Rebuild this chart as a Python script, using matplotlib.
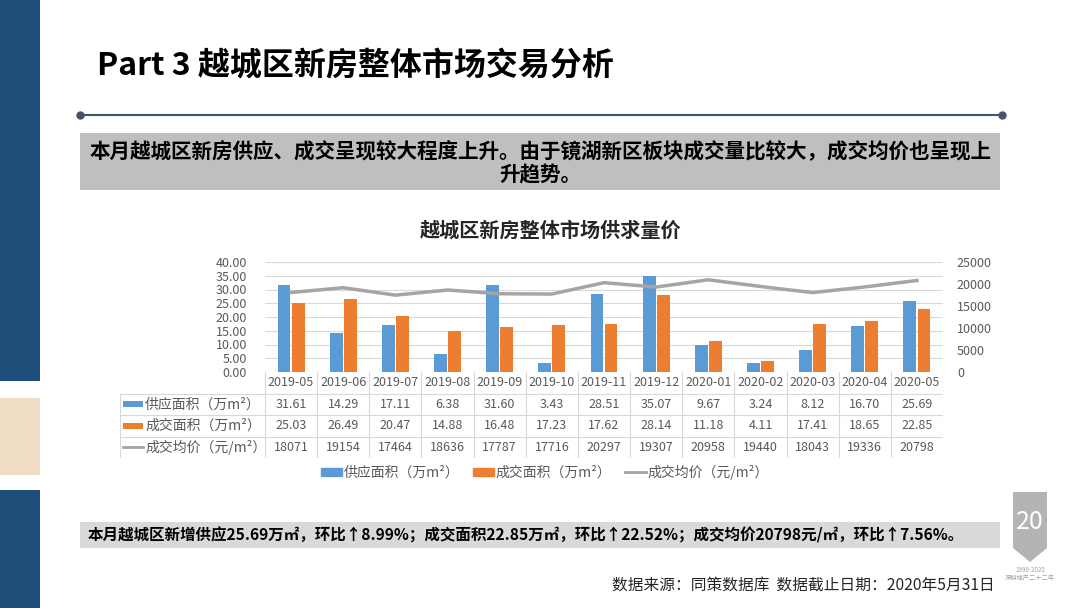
import matplotlib
matplotlib.use("Agg")
from matplotlib import pyplot as plt
from matplotlib.patches import Rectangle, Patch, Polygon
from matplotlib.lines import Line2D
import numpy as np

plt.rcParams['font.family'] = ['Noto Sans CJK SC', 'DejaVu Sans']

# data
months = ['2019-05', '2019-06', '2019-07', '2019-08', '2019-09', '2019-10', '2019-11',
          '2019-12', '2020-01', '2020-02', '2020-03', '2020-04', '2020-05']
supply = [31.61, 14.29, 17.11, 6.38, 31.60, 3.43, 28.51, 35.07, 9.67, 3.24, 8.12, 16.70, 25.69]
deal = [25.03, 26.49, 20.47, 14.88, 16.48, 17.23, 17.62, 28.14, 11.18, 4.11, 17.41, 18.65, 22.85]
price = [18071, 19154, 17464, 18636, 17787, 17716, 20297, 19307, 20958, 19440, 18043, 19336, 20798]
series_names = ['供应面积（万m²）', '成交面积（万m²）', '成交均价（元/m²）']

BLUE = '#5b9bd5'
ORANGE = '#ed7d31'
GRAY = '#a5a5a5'
TXT = '#595959'

W, H = 1080, 608

def box(x0, y0, x1, y1):
    return [x0 / W, 1 - y1 / H, (x1 - x0) / W, (y1 - y0) / H]

fig = plt.figure(figsize=(10.8, 6.08), dpi=100)

# left decoration strip
for (y0, y1, c) in [(0, 381, '#1f4e7a'), (398, 475, '#f0dcc4'), (490, 608, '#1f4e7a')]:
    fig.add_artist(Rectangle((0, 1 - y1 / H), 40 / W, (y1 - y0) / H,
                             transform=fig.transFigure, color=c, lw=0))

# page title
fig.text(97 / W, 1 - 65 / H, 'Part 3 越城区新房整体市场交易分析', fontsize=23,
         fontweight='heavy', va='center', ha='left', color='black')

# divider line with dots
fig.add_artist(Line2D([80 / W, 1002 / W], [1 - 115 / H, 1 - 115 / H], transform=fig.transFigure,
                      color='#44546a', lw=1.5))
fig.add_artist(Line2D([80 / W, 1002 / W], [1 - 115 / H, 1 - 115 / H], transform=fig.transFigure,
                      color='#44546a', lw=0, marker='o', markersize=5))

# summary box
fig.add_artist(Rectangle((80 / W, 1 - 190 / H), 920 / W, 57 / H, transform=fig.transFigure,
                         color='#bfbfbf', lw=0))
fig.text(540 / W, 1 - 152 / H, '本月越城区新房供应、成交呈现较大程度上升。由于镜湖新区板块成交量比较大，成交均价也呈现上',
         fontsize=14.8, fontweight='bold', ha='center', va='center')
fig.text(540 / W, 1 - 175 / H, '升趋势。', fontsize=14.8, fontweight='bold', ha='center', va='center')

# chart title
fig.text(551 / W, 1 - 230 / H, '越城区新房整体市场供求量价', fontsize=14.5, fontweight='bold',
         ha='center', va='center', color='#262626')

# main chart
ax = fig.add_axes(box(265, 262, 943, 372))
x = np.arange(len(months))
ax.bar(x - 0.135, supply, width=0.245, color=BLUE, zorder=3)
ax.bar(x + 0.135, deal, width=0.245, color=ORANGE, zorder=3)
ax.set_xlim(-0.5, len(months) - 0.5)
ax.set_ylim(0, 40)
ax.set_yticks(np.arange(0, 41, 5))
ax.set_yticklabels(['%.2f' % v for v in np.arange(0, 41, 5)])
ax.set_xticks([])
ax.grid(axis='y', color='#d9d9d9', lw=0.8, zorder=0)
for s in ax.spines.values():
    s.set_visible(False)
ax.tick_params(axis='y', length=0, pad=13, labelsize=9, labelcolor=TXT)

ax2 = ax.twinx()
ax2.plot(x, price, color=GRAY, lw=2.5, zorder=4)
ax2.set_ylim(0, 25000)
ax2.set_yticks(np.arange(0, 25001, 5000))
for s in ax2.spines.values():
    s.set_visible(False)
ax2.tick_params(axis='y', length=0, pad=10, labelsize=9, labelcolor=TXT)

# data table under the chart
tx = fig.add_axes(box(120, 372, 943, 458))
px_per_unit = (943 - 265) / len(months)
left = -0.5 - (265 - 120) / px_per_unit
tx.set_xlim(left, len(months) - 0.5)
tx.set_ylim(4, 0)
tx.axis('off')
line_c = '#d9d9d9'
for i in range(len(months) + 1):
    tx.plot([i - 0.5, i - 0.5], [0, 4], color=line_c, lw=0.8)
tx.plot([left, left], [1, 4], color=line_c, lw=0.8)
for r in [1, 2, 3, 4]:
    tx.plot([left, len(months) - 0.5], [r, r], color=line_c, lw=0.8)
for i, m in enumerate(months):
    tx.text(i, 0.5, m, ha='center', va='center', fontsize=9, color=TXT)
    tx.text(i, 1.5, '%.2f' % supply[i], ha='center', va='center', fontsize=9, color=TXT)
    tx.text(i, 2.5, '%.2f' % deal[i], ha='center', va='center', fontsize=9, color=TXT)
    tx.text(i, 3.5, '%d' % price[i], ha='center', va='center', fontsize=9, color=TXT)

key_w = 20 / px_per_unit
kx = left + 3 / px_per_unit
tx.add_patch(Rectangle((kx, 1.35), key_w, 0.3, color=BLUE, lw=0))
tx.add_patch(Rectangle((kx, 2.35), key_w, 0.3, color=ORANGE, lw=0))
tx.plot([kx, kx + key_w], [3.5, 3.5], color=GRAY, lw=2)
for r, name in enumerate(series_names):
    tx.text(kx + key_w + 2 / px_per_unit, r + 1.5, name, ha='left', va='center',
            fontsize=10, color=TXT)

# legend
handles = [Patch(color=BLUE), Patch(color=ORANGE), Line2D([0], [0], color=GRAY, lw=2)]
fig.legend(handles, series_names, loc='center', bbox_to_anchor=(545 / W, 1 - 472 / H),
           ncol=3, frameon=False, fontsize=10, labelcolor=TXT, handlelength=1.5,
           handleheight=0.5, handletextpad=0.1, columnspacing=1.0)

# bottom summary box
fig.add_artist(Rectangle((80 / W, 1 - 548 / H), 920 / W, 26 / H, transform=fig.transFigure,
                         color='#d9d9d9', lw=0))
fig.text(88 / W, 1 - 535 / H,
         '本月越城区新增供应25.69万㎡，环比↑8.99%；成交面积22.85万㎡，环比↑22.52%；成交均价20798元/㎡，环比↑7.56%。',
         fontsize=11.2, fontweight='bold', ha='left', va='center')

# source note
fig.text(995 / W, 1 - 585 / H, '数据来源：同策数据库  数据截止日期：2020年5月31日', fontsize=11.3,
         ha='right', va='center', color='#262626')

# logo (simplified)
fig.add_artist(Polygon([[1013 / W, 1 - 492 / H], [1047 / W, 1 - 492 / H], [1047 / W, 1 - 548 / H],
                        [1030 / W, 1 - 562 / H], [1013 / W, 1 - 548 / H]],
                       closed=True, transform=fig.transFigure, color='#b4b4b4', lw=0))
fig.text(1030 / W, 1 - 522 / H, '20', fontsize=18, fontstyle='italic', color='white',
         ha='center', va='center')
fig.text(1030 / W, 1 - 570 / H, '1998-2020', fontsize=4.5, color='#a0a0a0', ha='center', va='center')
fig.text(1030 / W, 1 - 578 / H, '深耕地产二十二年', fontsize=4.5, color='#a0a0a0', ha='center', va='center')

fig.savefig('out.png', dpi=100)
